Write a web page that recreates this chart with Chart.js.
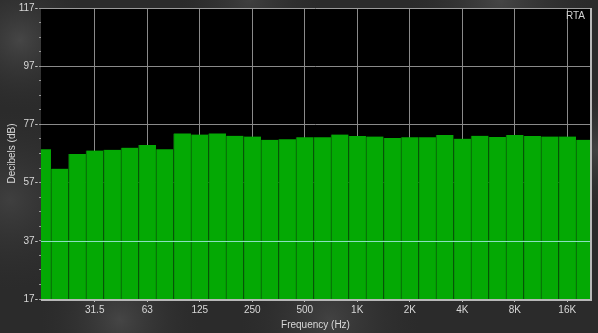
<!DOCTYPE html>
<html><head><meta charset="utf-8">
<script src="https://cdn.jsdelivr.net/npm/chart.js@4/dist/chart.umd.min.js"></script>
<style>html,body{margin:0;padding:0;background:#2e2e2e;}#wrap{width:598px;height:333px;}</style>
</head><body><div id="wrap"><canvas id="c" width="598" height="333"></canvas></div>
<script>
const bands = ['16','20','25','31.5','40','50','63','80','100','125','160','200','250','315','400','500','630','800','1K','1.25K','1.6K','2K','2.5K','3.15K','4K','5K','6.3K','8K','10K','12.5K','16K','20K'];
const levels = [68.5,61.8,66.8,68.0,68.3,69.0,69.9,68.5,73.9,73.5,73.9,73.1,72.8,71.7,71.9,72.6,72.6,73.5,73.0,72.8,72.3,72.6,72.6,73.4,72.1,73.1,72.7,73.4,73.0,72.8,72.8,71.7];
const tickBands = ['31.5','63','125','250','500','1K','2K','4K','8K','16K'];
const yMajor = [17,37,57,77,97,117];
const refLevel = 37;

const bgPlugin = {
  id:'bg',
  beforeDraw(chart){
    const c = chart.ctx, W = chart.width, H = chart.height;
    c.save();
    c.fillStyle = '#2b2b2b'; c.fillRect(0,0,W,H);
    const blobs = [[20,40,70,'rgba(120,120,120,0.35)'],[10,200,90,'rgba(110,110,110,0.3)'],[120,320,80,'rgba(130,130,130,0.3)'],[330,320,90,'rgba(120,120,120,0.3)'],[500,0,90,'rgba(120,120,120,0.35)'],[598,150,60,'rgba(120,120,120,0.3)'],[250,0,70,'rgba(110,110,110,0.3)']];
    for (const [x,y,r,col] of blobs){
      const g = c.createRadialGradient(x,y,0,x,y,r);
      g.addColorStop(0,col); g.addColorStop(1,'rgba(60,60,60,0)');
      c.fillStyle = g; c.fillRect(0,0,W,H);
    }
    const a = chart.chartArea;
    c.fillStyle = '#000';
    c.fillRect(a.left,a.top,a.right-a.left,a.bottom-a.top);
    c.restore();
  },
  afterDatasetsDraw(chart){
    const c = chart.ctx, a = chart.chartArea, y = chart.scales.y.getPixelForValue(refLevel);
    c.save();
    c.strokeStyle = '#88e0c0'; c.lineWidth = 1;
    c.beginPath(); c.moveTo(a.left, Math.round(y)+0.5); c.lineTo(a.right, Math.round(y)+0.5); c.stroke();
    c.strokeStyle = '#9a9a9a'; c.lineWidth = 1;
    c.beginPath(); c.moveTo(a.left, a.top+0.5); c.lineTo(a.right, a.top+0.5); c.stroke();
    c.strokeStyle = '#b8b8b8'; c.lineWidth = 2;
    c.beginPath(); c.moveTo(a.right+1, a.top); c.lineTo(a.right+1, a.bottom+2); c.stroke();
    c.beginPath(); c.moveTo(a.left, a.bottom+1); c.lineTo(a.right+2, a.bottom+1); c.stroke();
    c.fillStyle = '#d0d0d0'; c.font = '10px "Liberation Sans", Arial, sans-serif';
    c.textAlign = 'right'; c.textBaseline = 'top';
    c.fillText('RTA', a.right-5, a.top+3);
    c.restore();
  }
};

new Chart(document.getElementById('c'), {
  type:'bar',
  data:{ datasets:[{ data: levels.map((v,i)=>({x:i,y:v})), backgroundColor:'#04a904', borderColor:'#0a5c0a', borderWidth:{left:1,right:0,top:0,bottom:0}, borderSkipped:false, barPercentage:1, categoryPercentage:1 }]},
  options:{
    responsive:false, animation:false, events:[],
    layout:{ padding:{ left:0, right:8, top:8, bottom:0 } },
    plugins:{ legend:{display:false}, tooltip:{enabled:false} },
    scales:{
      x:{ type:'linear', min:-0.07, max:31.3, offset:false,
        afterBuildTicks(s){ s.ticks = tickBands.map(b=>({value: bands.indexOf(b)})); },
        afterFit(s){ s.height = 34; },
        ticks:{ autoSkip:false, maxRotation:0, color:'#d8d8d8', font:{size:10, family:'"Liberation Sans", Arial, sans-serif'}, padding:2,
          callback(v){ return bands[v]; } },
        grid:{ offset:false, color:'#8a8a8a', lineWidth:1, drawTicks:true, tickLength:3, tickColor:'#bbb' },
        border:{ display:false },
        title:{ display:true, text:'Frequency (Hz)', color:'#d8d8d8', font:{size:10, family:'"Liberation Sans", Arial, sans-serif'}, padding:{top:0,bottom:2} }
      },
      y:{ min:17, max:117,
        afterBuildTicks(s){ const t=[]; for(let v=17; v<=117; v+=5) t.push({value:v}); s.ticks=t; },
        afterFit(s){ s.width = 41; },
        ticks:{ autoSkip:false, color:'#d8d8d8', font:{size:10, family:'"Liberation Sans", Arial, sans-serif'}, padding:1,
          callback(v){ return yMajor.includes(v) ? v + '-' : ''; } },
        grid:{ color(ctx){ return (ctx.tick && yMajor.includes(ctx.tick.value) && ctx.tick.value!==17 && ctx.tick.value!==117) ? '#8a8a8a' : 'rgba(0,0,0,0)'; },
          drawTicks:true, tickLength:2, tickColor:'#9a9a9a' },
        border:{ display:false },
        title:{ display:true, text:'Decibels (dB)', color:'#d8d8d8', font:{size:10, family:'"Liberation Sans", Arial, sans-serif'}, padding:{top:6,bottom:0} }
      }
    }
  },
  plugins:[bgPlugin]
});
</script></body></html>
